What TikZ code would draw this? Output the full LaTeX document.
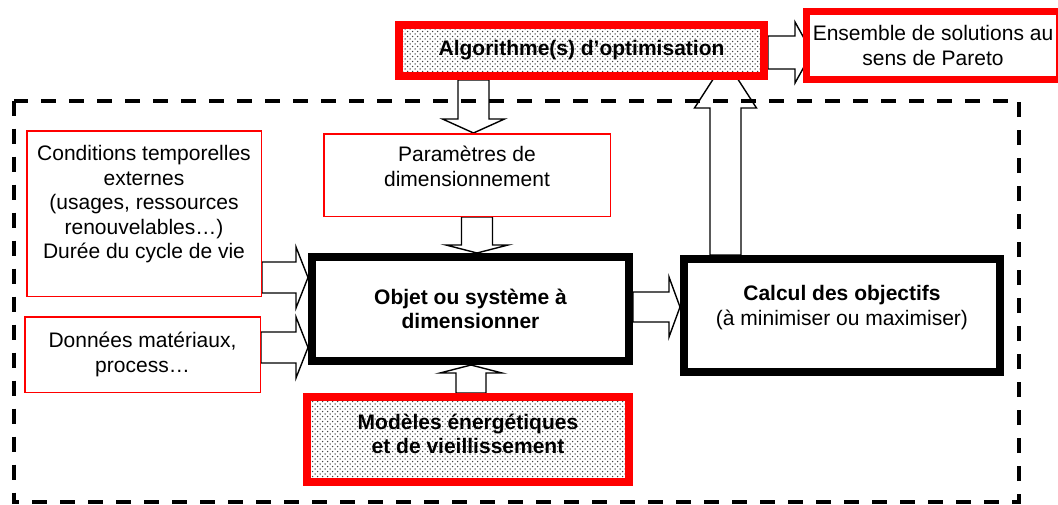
\documentclass[tikz,border=0pt]{standalone}
\usepackage{fontspec}
\setmainfont{Liberation Sans}
\usetikzlibrary{calc,patterns.meta,backgrounds}

\tikzdeclarepattern{
  name=stipple,
  type=uncolored,
  bounding box={(-1pt,-1pt) and (4pt,4pt)},
  tile size={(5pt,5pt)},
  code={\fill (0pt,0pt) circle (0.75pt); \fill (2.5pt,2.5pt) circle (0.75pt);}
}

\tikzset{
  txt/.style={font=\fontsize{21}{24.5}\selectfont},
  redthin/.style={txt, draw=red, line width=1.5pt, inner sep=0pt, align=center, fill=white},
  redthick/.style={txt, draw=red, line width=8pt, inner sep=0pt, align=center, fill=white},
  stippled/.style={preaction={fill=white}, pattern={stipple}, pattern color=black!75},
  blackthick/.style={txt, draw=black, line width=8pt, fill=white, inner sep=0pt, align=center},
  frame/.style={line width=4pt, dash pattern=on 15pt off 13pt},
  blockarrow/.style n args={3}{draw=black, line width=1.4pt, fill=white, line join=miter,
    to path={let \p1=(\tikztostart), \p2=(\tikztotarget),
      \n1={atan2(\y2-\y1,\x2-\x1)}, \n2={veclen(\x2-\x1,\y2-\y1)} in
      ([shift={(\p1)},rotate=\n1]0pt,#1)
      -- ([shift={(\p1)},rotate=\n1]\n2-#3,#1)
      -- ([shift={(\p1)},rotate=\n1]\n2-#3,#2)
      -- (\p2)
      -- ([shift={(\p1)},rotate=\n1]\n2-#3,-#2)
      -- ([shift={(\p1)},rotate=\n1]\n2-#3,-#1)
      -- ([shift={(\p1)},rotate=\n1]0pt,-#1)
      -- cycle}}
}

\begin{document}
\begin{tikzpicture}[x=1pt,y=-1pt]
\useasboundingbox (0,0) rectangle (1058,504);

% boxes
\node[redthick, stippled, minimum width=365pt, minimum height=51pt] (alg) at (581.5,50.5)
  {\textbf{Algorithme(s) d’optimisation}};
\node[redthick, line width=7pt, minimum width=253pt, minimum height=68pt] (ens) at (933,45.5)
  {Ensemble de solutions au\\sens de Pareto};
\node[redthin, minimum width=234.5pt, minimum height=165.5pt] (cond) at (144,213.5)
  {Conditions temporelles\\externes\\(usages, ressources\\renouvelables…)\\Durée du cycle de vie\\[-2pt]\mbox{}};
\node[redthin, minimum width=235.5pt, minimum height=75.5pt] (don) at (142.5,354.5)
  {Données matériaux,\\process…};
\node[redthin, minimum width=286.5pt, minimum height=82.5pt] (par) at (467,175)
  {Paramètres de\\dimensionnement\\[-7.5pt]\mbox{}};
\node[blackthick, minimum width=317pt, minimum height=104pt] (obj) at (470.5,309)
  {\textbf{Objet ou système à}\\\textbf{dimensionner}};
\node[blackthick, minimum width=316pt, minimum height=113pt] (calc) at (842,315.5)
  {\textbf{Calcul des objectifs}\\(à minimiser ou maximiser)\\[-4.5pt]\mbox{}};
\node[redthick, stippled, minimum width=322pt, minimum height=85pt] (mod) at (468,439.5)
  {\textbf{Modèles énergétiques}\\\textbf{et de vieillissement}\\[-13.5pt]\mbox{}};

% block arrows (behind the boxes)
\begin{scope}[on background layer]
\draw[blockarrow={15.5pt}{31pt}{14pt}] ([xshift=-108pt]alg.south) to ([xshift=6.5pt]par.north);
\draw[blockarrow={15.5pt}{31pt}{8pt}] ([xshift=10pt]par.south) to ([xshift=6.5pt]obj.north);
\draw[blockarrow={15.5pt}{30.5pt}{12pt}] ([yshift=-64pt]cond.east) to ([yshift=31.5pt]obj.west);
\draw[blockarrow={15.5pt}{30.5pt}{12pt}] ([yshift=7pt]don.east) to ([yshift=-38.5pt]obj.west);
\draw[blockarrow={15pt}{30pt}{11pt}] ([yshift=2pt]obj.east) to ([yshift=8.5pt]calc.west);
\draw[blockarrow={15pt}{31pt}{8pt}] ([xshift=3pt]mod.north) to ([xshift=0.5pt]obj.south);
\draw[blockarrow={15.5pt}{31pt}{48pt}] ([xshift=-116.5pt]calc.north) to ([xshift=144pt,yshift=20pt]alg.south);
\draw[blockarrow={16.5pt}{30.5pt}{17pt}] ([yshift=-2pt]alg.east) to ([xshift=9pt,yshift=-7pt]ens.west);
\end{scope}

% dashed frame
\draw[frame] (13.5,100.5) rectangle (1019,502);
\end{tikzpicture}
\end{document}
